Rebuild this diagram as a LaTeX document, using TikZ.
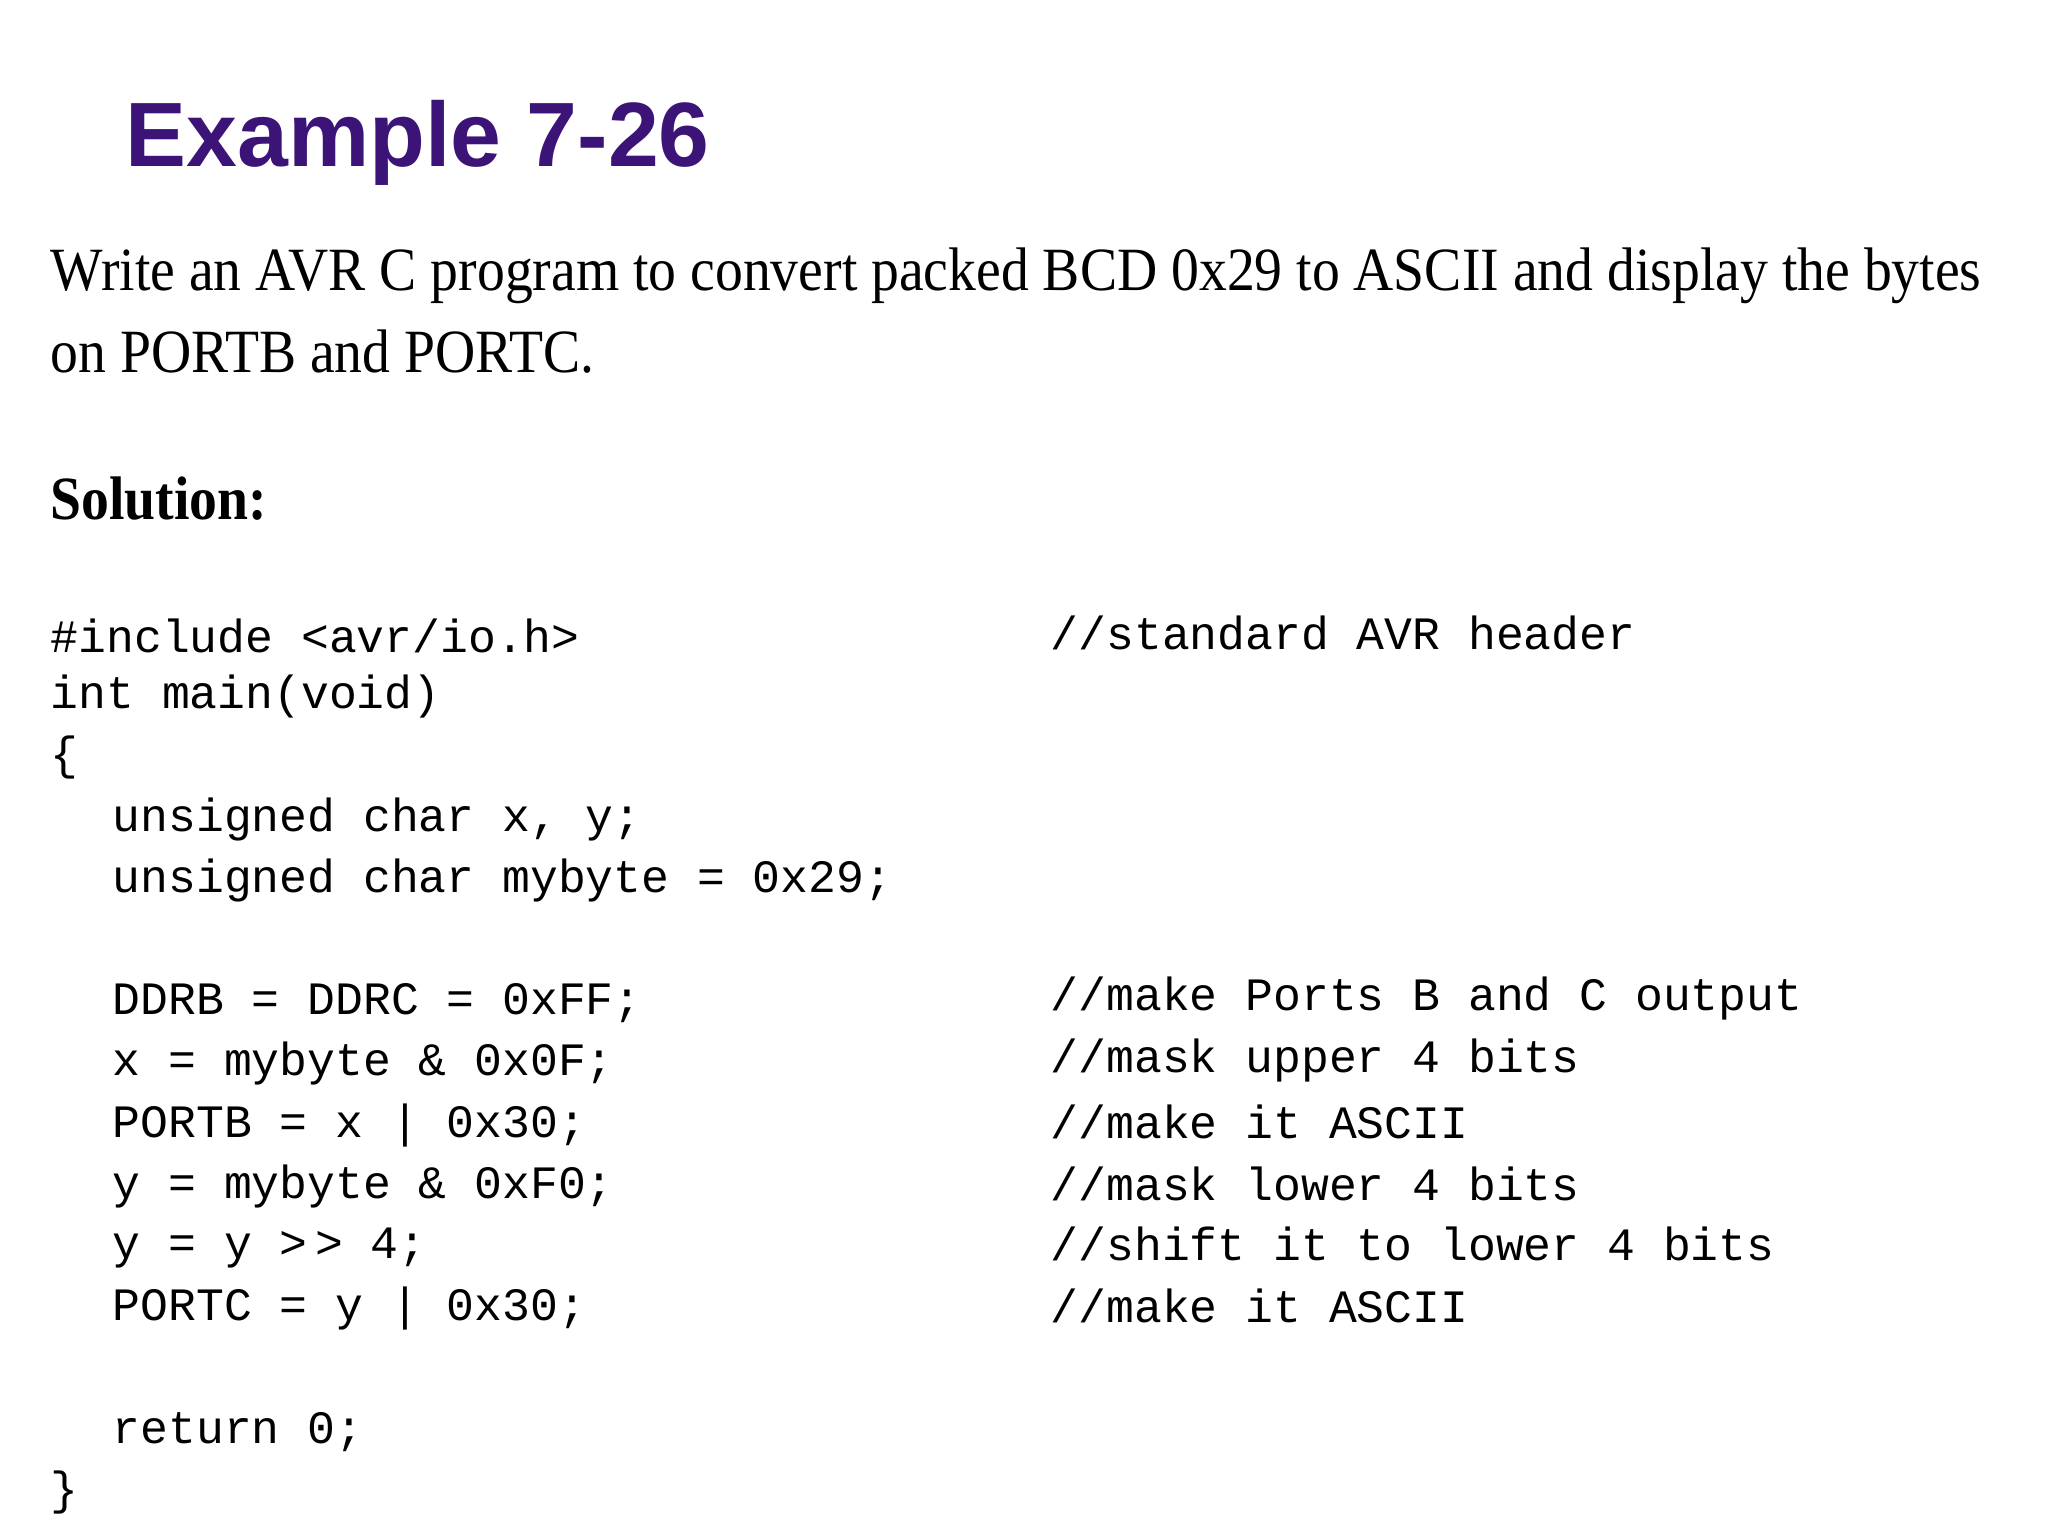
\documentclass[tikz,border=0pt]{standalone}
\usepackage{fontspec}
\setmainfont{Liberation Serif}
\setsansfont{Liberation Sans}
\setmonofont{Liberation Mono}
\newfontfamily\narrowserif[FakeStretch=0.905]{Liberation Serif}
\usepackage{tikz}
\definecolor{titlepurple}{RGB}{60,20,120}
\tikzset{
  codeline/.style={anchor=west, inner sep=0pt, font=\fontsize{13.2}{15}\selectfont\ttfamily},
  bodyline/.style={anchor=west, inner sep=0pt, font=\fontsize{17.5}{20}\selectfont\narrowserif}
}
\begin{document}
\begin{tikzpicture}
  \useasboundingbox (0,0) rectangle (20.48,15.36);
  % Title
  \node[anchor=west, inner sep=0pt, text=titlepurple,
        font=\fontsize{26}{30}\selectfont\sffamily\bfseries] (title) at (1.25,13.93) {Example 7-26};

  % Task text
  \node[bodyline] (task1) at (0.50,12.60) {Write an AVR C program to convert packed BCD 0x29 to ASCII and display the bytes};
  \node[bodyline] (task2) at (0.50,11.84) {on PORTB and PORTC.};
  \node[bodyline, font=\fontsize{17.5}{20}\selectfont\narrowserif\bfseries] (sol) at (0.50,10.37) {Solution:};

  % Code
  \node[codeline] (c1) at (0.50,9.00) {\#include <avr/io.h>};
  \node[codeline] (c2) at (0.50,8.39) {int main(void)};
  \node[codeline] (c3) at (0.50,7.78) {\{};
  \node[codeline] (c4) at (1.12,7.16) {unsigned char x, y;};
  \node[codeline] (c5) at (1.12,6.55) {unsigned char mybyte = 0x29;};
  \node[codeline] (c6) at (1.12,5.33) {DDRB = DDRC = 0xFF;};
  \node[codeline] (c7) at (1.12,4.72) {x = mybyte \& 0x0F;};
  \node[codeline] (c8) at (1.12,4.10) {PORTB = x | 0x30;};
  \node[codeline] (c9) at (1.12,3.49) {y = mybyte \& 0xF0;};
  \node[codeline] (c10) at (1.12,2.88) {y = y >\,> 4;};
  \node[codeline] (c11) at (1.12,2.27) {PORTC = y | 0x30;};
  \node[codeline] (c12) at (1.12,1.04) {return 0;};
  \node[codeline] (c13) at (0.50,0.43) {\}};

  % Comments
  \node[codeline] (m1) at (10.50,9.03) {//standard AVR header};
  \node[codeline] (m6) at (10.50,5.37) {//make Ports B and C output};
  \node[codeline] (m7) at (10.50,4.75) {//mask upper 4 bits};
  \node[codeline] (m8) at (10.50,4.14) {//make it ASCII};
  \node[codeline] (m9) at (10.50,3.52) {//mask lower 4 bits};
  \node[codeline] (m10) at (10.50,2.92) {//shift it to lower 4 bits};
  \node[codeline] (m11) at (10.50,2.30) {//make it ASCII};
\end{tikzpicture}
\end{document}
